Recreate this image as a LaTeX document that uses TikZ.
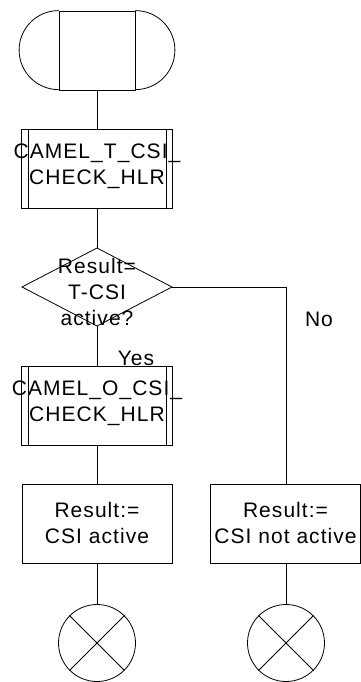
\documentclass[tikz,border=0pt]{standalone}
\usepackage{fontspec}
\setmainfont{Liberation Sans}[LetterSpace=5]
\begin{document}
\begin{tikzpicture}[x=1pt,y=-1pt,line width=0.8pt,
  txt/.style={font=\fontsize{21}{26}\selectfont,align=center,inner sep=0pt},
  boxshape/.style={draw,minimum width=150pt,minimum height=79pt,inner sep=0pt}]
\useasboundingbox (0,0) rectangle (361,682);
% start symbol
\node[draw,minimum width=76pt,minimum height=79pt,inner sep=0pt] (start) at (97,50.5) {};
\draw (start.north west) arc[start angle=270,end angle=90,radius=39.5];
\draw (start.north east) arc[start angle=270,end angle=450,radius=39.5];
% procedure box 1
\node[boxshape,minimum width=151pt] (p1) at (96.5,168.5) {};
\draw ([xshift=8pt]p1.north west) -- ([xshift=8pt]p1.south west);
\draw ([xshift=-6pt]p1.north east) -- ([xshift=-6pt]p1.south east);
\node[txt] (t1) at (97,166.5) {CAMEL\_T\_CSI\_\\CHECK\_HLR};
% decision
\coordinate (dt) at (97,248);
\coordinate (dr) at (172,287);
\coordinate (db) at (97,326);
\coordinate (dl) at (22,287);
\draw (dt) -- (dr) -- (db) -- (dl) -- cycle;
\node[txt] (t2) at (97,292) {Result=\\T-CSI\\active?};
% procedure box 2
\node[boxshape,minimum width=151pt] (p2) at (96.5,405.5) {};
\draw ([xshift=8pt]p2.north west) -- ([xshift=8pt]p2.south west);
\draw ([xshift=-6pt]p2.north east) -- ([xshift=-6pt]p2.south east);
\node[txt] (t3) at (97,403.5) {CAMEL\_O\_CSI\_\\CHECK\_HLR};
% task boxes
\node[boxshape] (p3) at (97,523.5) {};
\node[txt] (t4) at (97,523) {Result:=\\CSI active};
\node[boxshape] (p4) at (285.5,523.5) {};
\node[txt] (t5) at (285.5,523) {Result:=\\CSI not active};
% terminators
\node[draw,circle,minimum size=77pt,inner sep=0pt] (c1) at (97,643) {};
\draw (c1.north west) -- (c1.south east) (c1.north east) -- (c1.south west);
\node[draw,circle,minimum size=77pt,inner sep=0pt] (c2) at (286,643) {};
\draw (c2.north west) -- (c2.south east) (c2.north east) -- (c2.south west);
% connectors
\draw (start.south) -- (p1.north -| start.south);
\draw (p1.south -| dt) -- (dt);
\draw (db) -- (p2.north -| db);
\draw (p2.south -| db) -- (p3.north);
\draw (p3.south) -- (c1.north);
\draw (dr) -| (c2.north |- p4.north);
\draw (c2.north |- p4.south) -- (c2.north);
% labels
\node[txt] (yes) at (136,358) {Yes};
\node[txt] (no) at (319,319) {No};
\end{tikzpicture}
\end{document}
